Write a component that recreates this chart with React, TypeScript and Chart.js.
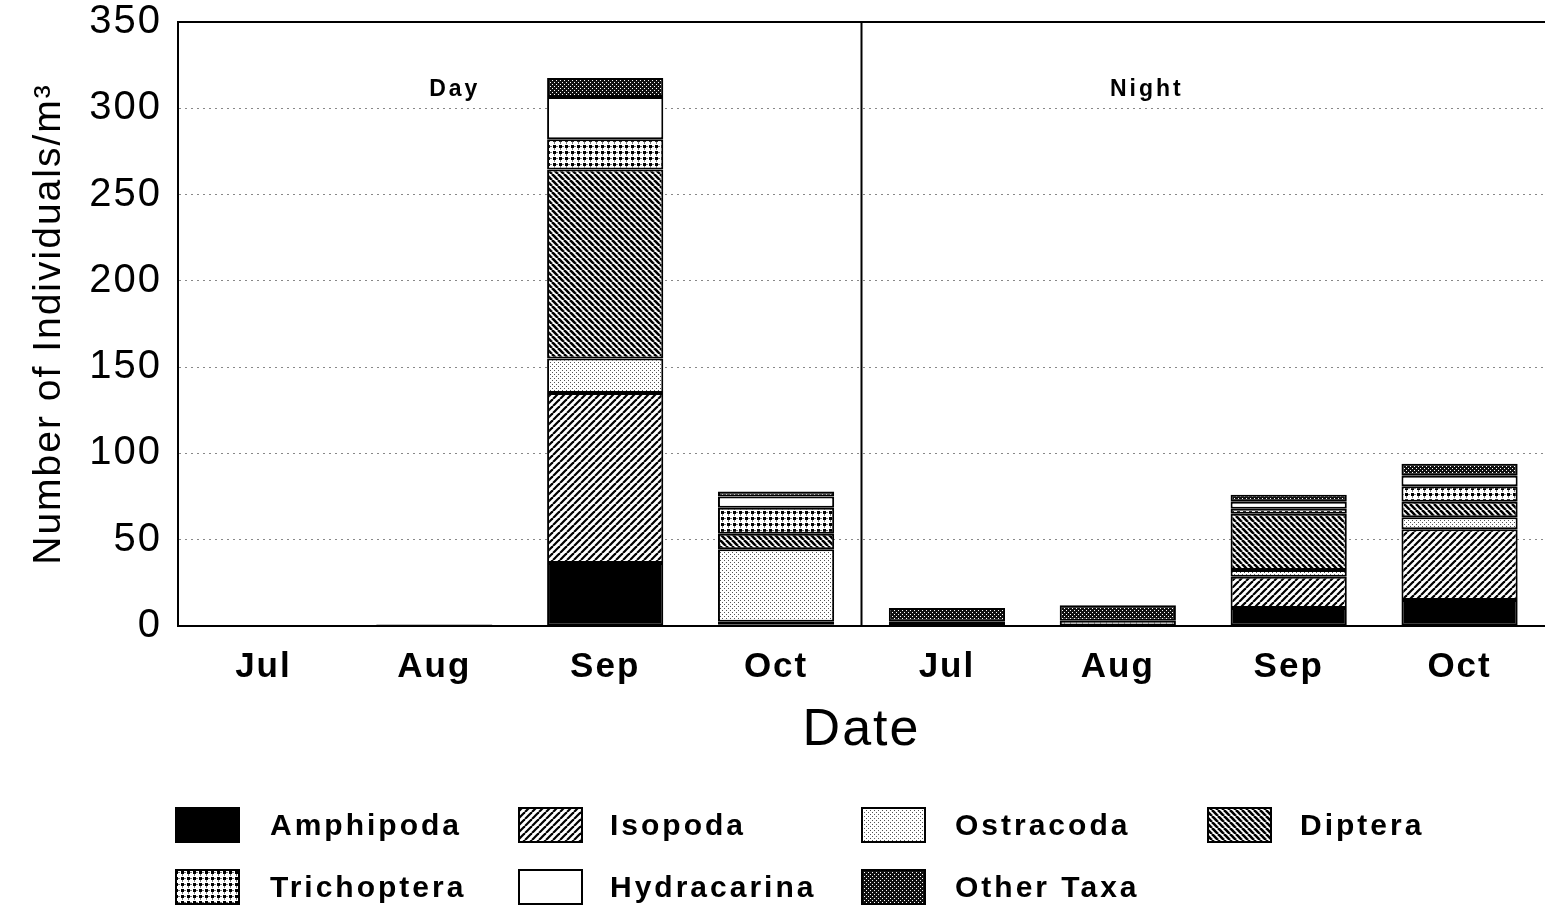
import React, { useEffect, useRef } from "react";
import { Chart, registerables } from "chart.js";

Chart.register(...registerables);

const categories = ["Jul", "Aug", "Sep", "Oct", "Jul", "Aug", "Sep", "Oct"];
const amphipoda = [0, 0, 36.5, 1, 0, 0, 10.5, 15];
const isopoda = [0, 0, 98.5, 1.5, 0, 0, 18, 41];
const ostracoda = [0, 0, 20, 42, 0, 0, 4, 7];
const diptera = [0, 0, 109.5, 9, 0, 0, 32.5, 9];
const trichoptera = [0, 0, 17.5, 15, 2.5, 3, 3, 9];
const hydracarina = [0, 0, 24.5, 6.5, 0, 0, 4, 6];
const otherTaxa = [0.3, 0.8, 11, 3, 8, 9, 4, 7];
const seriesNames = ["Amphipoda", "Isopoda", "Ostracoda", "Diptera", "Trichoptera", "Hydracarina", "Other Taxa"];
const yTicks = [0, 50, 100, 150, 200, 250, 300, 350];
const periodLabels = ["Day", "Night"];

const FONT = "'Liberation Sans', Arial, Helvetica, sans-serif";

function makePattern(kind: string): CanvasPattern | string {
  if (kind === "Amphipoda") return "#000";
  if (kind === "Hydracarina") return "#fff";
  const c = document.createElement("canvas");
  const ctx = c.getContext("2d")!;
  if (kind === "Isopoda") {
    const s = 7;
    c.width = s; c.height = s;
    ctx.fillStyle = "#fff"; ctx.fillRect(0, 0, s, s);
    ctx.strokeStyle = "#000"; ctx.lineWidth = 2.2;
    for (const o of [-s, 0, s]) {
      ctx.beginPath(); ctx.moveTo(o, s); ctx.lineTo(o + s, 0); ctx.stroke();
    }
  } else if (kind === "Diptera") {
    const s = 6;
    c.width = s; c.height = s;
    ctx.fillStyle = "#fff"; ctx.fillRect(0, 0, s, s);
    ctx.strokeStyle = "#000"; ctx.lineWidth = 2.6;
    for (const o of [-s, 0, s]) {
      ctx.beginPath(); ctx.moveTo(o, 0); ctx.lineTo(o + s, s); ctx.stroke();
    }
  } else if (kind === "Ostracoda") {
    const s = 4;
    c.width = s; c.height = s;
    ctx.fillStyle = "#fff"; ctx.fillRect(0, 0, s, s);
    ctx.fillStyle = "#555";
    ctx.fillRect(0, 0, 1, 1); ctx.fillRect(2, 2, 1, 1);
  } else if (kind === "Trichoptera") {
    const s = 6;
    c.width = s; c.height = s;
    ctx.fillStyle = "#fff"; ctx.fillRect(0, 0, s, s);
    ctx.fillStyle = "#000";
    ctx.fillRect(1, 1, 3, 3);
    ctx.fillStyle = "#777";
    ctx.fillRect(4, 2, 2, 1); ctx.fillRect(2, 4, 1, 2);
  } else {
    const s = 4;
    c.width = s; c.height = s;
    ctx.fillStyle = "#111"; ctx.fillRect(0, 0, s, s);
    ctx.fillStyle = "#fff";
    ctx.fillRect(0, 0, 1, 1); ctx.fillRect(2, 2, 1, 1);
  }
  return ctx.createPattern(c, "repeat")!;
}

export default function App() {
  const ref = useRef<HTMLCanvasElement>(null);
  useEffect(() => {
    const canvas = ref.current!;
    const values = [amphipoda, isopoda, ostracoda, diptera, trichoptera, hydracarina, otherTaxa];
    const fills = seriesNames.map((n) => makePattern(n));
    const datasets = seriesNames.map((name, i) => ({
      label: name,
      data: values[i],
      backgroundColor: fills[i] as any,
      borderColor: "#000",
      borderWidth: 2,
      borderSkipped: false as any,
      barPercentage: 0.68,
      categoryPercentage: 1,
    }));

    const overlay = {
      id: "overlay",
      beforeDraw(chart: any) {
        chart.ctx.letterSpacing = "2px";
      },
      afterDraw(chart: any) {
        const ctx = chart.ctx as CanvasRenderingContext2D;
        const { left, right, top, bottom } = chart.chartArea;
        const xs = chart.scales.x;
        const step = xs.getPixelForValue(1) - xs.getPixelForValue(0);
        ctx.save();
        ctx.strokeStyle = "#000";
        ctx.lineWidth = 2;
        // top frame
        ctx.beginPath(); ctx.moveTo(left, top); ctx.lineTo(right, top); ctx.stroke();
        // divider between day and night
        const mid = (xs.getPixelForValue(3) + xs.getPixelForValue(4)) / 2;
        ctx.beginPath(); ctx.moveTo(mid, top); ctx.lineTo(mid, bottom); ctx.stroke();
        // Day / Night labels
        ctx.fillStyle = "#000";
        ctx.font = `bold 23px ${FONT}`;
        (ctx as any).letterSpacing = "3px";
        ctx.textAlign = "center";
        ctx.textBaseline = "middle";
        const yl = chart.scales.y.getPixelForValue(311);
        ctx.fillText(periodLabels[0], xs.getPixelForValue(1) + 0.12 * step, yl);
        ctx.fillText(periodLabels[1], xs.getPixelForValue(5) + 0.17 * step, yl);
        // legend
        const colsSw = [176, 519, 862, 1208];
        const colsTx = [270, 610, 955, 1300];
        const rows = [825, 887];
        ctx.font = `bold 30px ${FONT}`;
        (ctx as any).letterSpacing = "3px";
        ctx.textAlign = "left";
        seriesNames.forEach((name, i) => {
          const r = Math.floor(i / 4);
          const c = i % 4;
          const cy = rows[r];
          ctx.fillStyle = fills[i] as any;
          ctx.fillRect(colsSw[c], cy - 17, 63, 34);
          ctx.strokeStyle = "#000";
          ctx.lineWidth = 2;
          ctx.strokeRect(colsSw[c], cy - 17, 63, 34);
          ctx.fillStyle = "#000";
          ctx.fillText(name, colsTx[c], cy + 2);
        });
        ctx.restore();
      },
    };

    const chart = new Chart(canvas, {
      type: "bar",
      data: { labels: categories, datasets },
      options: {
        animation: false,
        responsive: false,
        events: [],
        layout: { padding: { top: 22, left: 0, right: 0, bottom: 0 } },
        plugins: { legend: { display: false }, tooltip: { enabled: false } },
        scales: {
          x: {
            stacked: true,
            grid: { display: false, drawTicks: false },
            border: { display: true, color: "#000", width: 2 },
            ticks: { color: "#000", font: { family: FONT, size: 35, weight: "bold" }, padding: 20 },
            title: {
              display: true,
              text: "Date",
              color: "#000",
              font: { family: FONT, size: 52 },
              padding: { top: 0, bottom: 150 },
            },
            afterFit(scale: any) {
              scale.height = 286;
              scale.paddingLeft = 0;
              scale.paddingRight = 0;
            },
          },
          y: {
            stacked: true,
            min: 0,
            max: 350,
            afterBuildTicks(scale: any) { scale.ticks = yTicks.map((v) => ({ value: v })); },
            grid: {
              drawTicks: false,
              color: (c: any) => (c.tick && (c.tick.value === 0 || c.tick.value === 350) ? "rgba(0,0,0,0)" : "#888"),
              lineWidth: 1,
            },
            border: { display: true, color: "#000", width: 2, dash: [2, 4] },
            ticks: { color: "#000", font: { family: FONT, size: 40 }, padding: 16 },
            title: {
              display: true,
              text: "Number of Individuals/m³",
              color: "#000",
              font: { family: FONT, size: 39 },
              padding: { top: 26, bottom: 0 },
            },
            afterFit(scale: any) {
              scale.width = 178;
              scale.paddingTop = 0;
              scale.paddingBottom = 0;
            },
          },
        },
      },
      plugins: [overlay],
    });
    return () => chart.destroy();
  }, []);
  return (
    <canvas
      ref={ref}
      width={1545}
      height={912}
      style={{ position: "fixed", left: 0, top: 0, width: 1545, height: 912, background: "#fff" }}
    />
  );
}
